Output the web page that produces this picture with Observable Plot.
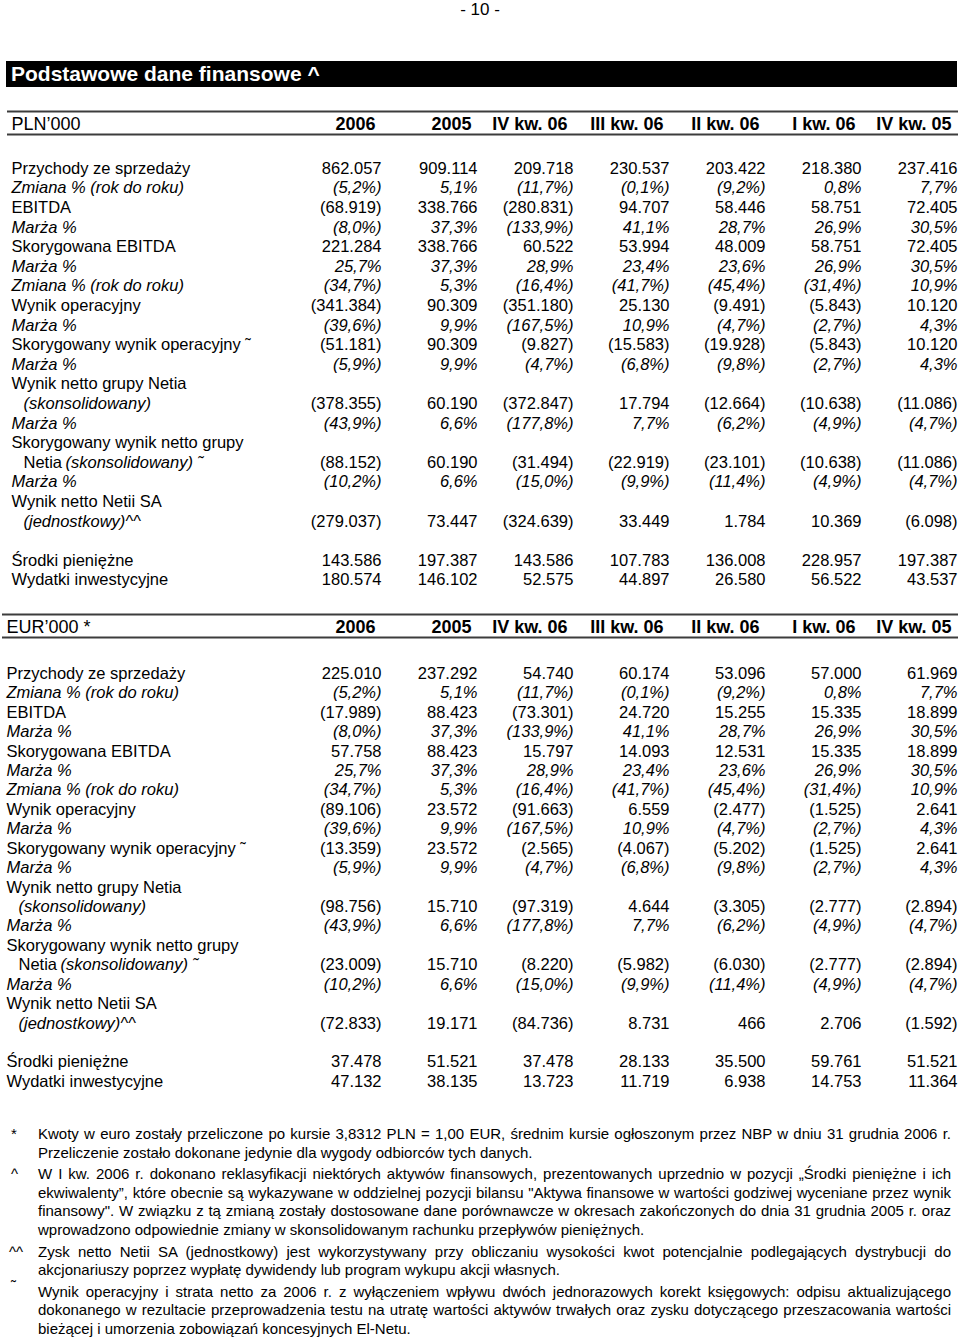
<!DOCTYPE html>
<html><head><meta charset="utf-8">
<script src="https://cdn.jsdelivr.net/npm/d3@7"></script>
<script src="https://cdn.jsdelivr.net/npm/@observablehq/plot@0.6"></script>
<style>
body{margin:0;background:#fff;font-family:"Liberation Sans",Arial,sans-serif;color:#000}
#page{position:relative;width:960px;height:1340px;overflow:hidden;background:#fff}
#pnum{position:absolute;top:1px;left:0;width:960px;text-align:center;font-size:17px;line-height:18px}
#bar{position:absolute;top:61px;left:6px;width:951px;height:26px;background:#000;color:#fff;font-weight:bold;font-size:21px;line-height:26px;padding-left:5px;box-sizing:border-box;white-space:nowrap}
.tbl{position:absolute;left:0}
#notes{position:absolute;top:1125px;left:0;width:960px;font-size:15px;line-height:18.6px}
.fn{position:relative;padding-left:38px;padding-right:9px;text-align:justify;margin-bottom:3px}
.fn .m{position:absolute;left:11px;top:0}
</style></head><body>
<div id="page">
  <div id="pnum">- 10 -</div>
  <div id="bar">Podstawowe dane finansowe ^</div>
  <div id="pln" class="tbl" style="top:100px"></div>
  <div id="eur" class="tbl" style="top:600px"></div>
  <div id="notes">
    <div class="fn"><span class="m">*</span>Kwoty w euro zostały przeliczone po kursie 3,8312 PLN = 1,00 EUR, średnim kursie ogłoszonym przez NBP w dniu 31 grudnia 2006 r. Przeliczenie zostało dokonane jedynie dla wygody odbiorców tych danych.</div>
    <div class="fn"><span class="m">^</span>W I kw. 2006 r. dokonano reklasyfikacji niektórych aktywów finansowych, prezentowanych uprzednio w pozycji „Środki pieniężne i ich ekwiwalenty”, które obecnie są wykazywane w oddzielnej pozycji bilansu "Aktywa finansowe w wartości godziwej wyceniane przez wynik finansowy". W związku z tą zmianą zostały dostosowane dane porównawcze w okresach zakończonych do dnia 31 grudnia 2005 r. oraz wprowadzono odpowiednie zmiany w skonsolidowanym rachunku przepływów pieniężnych.</div>
    <div class="fn"><span class="m" style="left:9px">^^</span>Zysk netto Netii SA (jednostkowy) jest wykorzystywany przy obliczaniu wysokości kwot potencjalnie podlegających dystrybucji do akcjonariuszy poprzez wypłatę dywidendy lub program wykupu akcji własnych.</div>
    <div class="fn"><span class="m" style="top:-6px">˜</span>Wynik operacyjny i strata netto za 2006 r. z wyłączeniem wpływu dwóch jednorazowych korekt księgowych: odpisu aktualizującego dokonanego w rezultacie przeprowadzenia testu na utratę wartości aktywów trwałych oraz zysku dotyczącego przeszacowania wartości bieżącej i umorzenia zobowiązań koncesyjnych El-Netu.</div>
  </div>
</div>
<script>
// ---- data ----
const columns = ["2006", "2005", "IV kw. 06", "III kw. 06", "II kw. 06", "I kw. 06", "IV kw. 05"];

const rowLabels = [
  "Przychody ze sprzedaży", "Zmiana % (rok do roku)", "EBITDA", "Marża %",
  "Skorygowana EBITDA", "Marża %", "Zmiana % (rok do roku)", "Wynik operacyjny",
  "Marża %", "Skorygowany wynik operacyjny \u02DC", "Marża %", "Wynik netto grupy Netia",
  "(skonsolidowany)", "Marża %", "Skorygowany wynik netto grupy", "Netia",
  "Marża %", "Wynik netto Netii SA", "(jednostkowy)^^", "",
  "Środki pieniężne", "Wydatki inwestycyjne"
];
const labelItalicRows = [1, 3, 5, 6, 8, 10, 12, 13, 16, 18];
const labelIndentRows = [12, 15, 18];
const labelSuffix = [{row: 15, text: "(skonsolidowany) \u02DC"}];
const valueKind = ["n","p","n","p","n","p","p","n","p","n","p",null,"n","p",null,"n","p",null,"n",null,"n","n"];

// percentages (same in both currencies)
const pctZmianaPrzychodow = [-5.2, 5.1, -11.7, -0.1, -9.2, 0.8, 7.7];
const pctMarzaEbitda = [-8.0, 37.3, -133.9, 41.1, 28.7, 26.9, 30.5];
const pctMarzaSkorEbitda = [25.7, 37.3, 28.9, 23.4, 23.6, 26.9, 30.5];
const pctZmianaSkorEbitda = [-34.7, 5.3, -16.4, -41.7, -45.4, -31.4, 10.9];
const pctMarzaOper = [-39.6, 9.9, -167.5, 10.9, -4.7, -2.7, 4.3];
const pctMarzaSkorOper = [-5.9, 9.9, -4.7, -6.8, -9.8, -2.7, 4.3];
const pctMarzaNetto = [-43.9, 6.6, -177.8, 7.7, -6.2, -4.9, -4.7];
const pctMarzaSkorNetto = [-10.2, 6.6, -15.0, -9.9, -11.4, -4.9, -4.7];

// PLN '000
const plnPrzychody = [862057, 909114, 209718, 230537, 203422, 218380, 237416];
const plnEbitda = [-68919, 338766, -280831, 94707, 58446, 58751, 72405];
const plnSkorEbitda = [221284, 338766, 60522, 53994, 48009, 58751, 72405];
const plnWynikOper = [-341384, 90309, -351180, 25130, -9491, -5843, 10120];
const plnSkorWynikOper = [-51181, 90309, -9827, -15583, -19928, -5843, 10120];
const plnWynikNetto = [-378355, 60190, -372847, 17794, -12664, -10638, -11086];
const plnSkorWynikNetto = [-88152, 60190, -31494, -22919, -23101, -10638, -11086];
const plnWynikNettoSA = [-279037, 73447, -324639, 33449, 1784, 10369, -6098];
const plnSrodki = [143586, 197387, 143586, 107783, 136008, 228957, 197387];
const plnWydatki = [180574, 146102, 52575, 44897, 26580, 56522, 43537];

// EUR '000
const eurPrzychody = [225010, 237292, 54740, 60174, 53096, 57000, 61969];
const eurEbitda = [-17989, 88423, -73301, 24720, 15255, 15335, 18899];
const eurSkorEbitda = [57758, 88423, 15797, 14093, 12531, 15335, 18899];
const eurWynikOper = [-89106, 23572, -91663, 6559, -2477, -1525, 2641];
const eurSkorWynikOper = [-13359, 23572, -2565, -4067, -5202, -1525, 2641];
const eurWynikNetto = [-98756, 15710, -97319, 4644, -3305, -2777, -2894];
const eurSkorWynikNetto = [-23009, 15710, -8220, -5982, -6030, -2777, -2894];
const eurWynikNettoSA = [-72833, 19171, -84736, 8731, 466, 2706, -1592];
const eurSrodki = [37478, 51521, 37478, 28133, 35500, 59761, 51521];
const eurWydatki = [47132, 38135, 13723, 11719, 6938, 14753, 11364];

// ---- formatting ----
const fmtNum = v => { const s = d3.format(",")(Math.abs(v)).replace(/,/g, "."); return v < 0 ? `(${s})` : s; };
const fmtPct = v => { const s = Math.abs(v).toFixed(1).replace(".", ",") + "%"; return v < 0 ? `(${s})` : s; };

function buildTable(cfg, series) {
  const cells = [];
  series.forEach((vals, i) => {
    if (!vals) return;
    vals.forEach((v, j) => cells.push({row: i, col: columns[j], text: valueKind[i] === "p" ? fmtPct(v) : fmtNum(v), pct: valueKind[i] === "p"}));
  });
  const labels = rowLabels.map((label, i) => ({row: i, label, italic: labelItalicRows.includes(i), indent: labelIndentRows.includes(i)})).filter(d => d.label);
  const FS = 16.5;
  const labelMarks = d3.groups(labels, d => d.italic, d => d.indent).flatMap(([italic, g]) => g.map(([indent, rows]) =>
    Plot.text(rows, {y: "row", text: "label", frameAnchor: "left", textAnchor: "start", dx: cfg.left + (indent ? cfg.indent : 0), fontSize: FS, fontStyle: italic ? "italic" : "normal"})));
  return Plot.plot({
    width: 960, height: 500,
    marginTop: 0, marginBottom: 0, marginLeft: 0, marginRight: 0,
    x: {type: "point", domain: columns, range: [381, 957], padding: 0, axis: null},
    y: {domain: [0, 21], range: cfg.yRange, axis: null},
    style: {fontFamily: "'Liberation Sans', Arial, sans-serif", background: "white", color: "black"},
    marks: [
      Plot.ruleY(cfg.rules, {stroke: "#3c3c3c", strokeWidth: 2, insetLeft: cfg.ruleLeft, insetRight: 2}),
      Plot.text([cfg.unit], {y: () => cfg.hdr, text: d => d, frameAnchor: "left", textAnchor: "start", dx: cfg.left, fontSize: 18}),
      Plot.text(columns, {x: d => d, y: () => cfg.hdr, text: d => d, textAnchor: "end", dx: -6, fontSize: 18, fontWeight: "bold"}),
      ...labelMarks,
      Plot.text(labelSuffix, {y: "row", text: "text", frameAnchor: "left", textAnchor: "start", dx: cfg.left + cfg.indent + 42, fontSize: FS, fontStyle: "italic"}),
      Plot.text(cells.filter(d => !d.pct), {x: "col", y: "row", text: "text", textAnchor: "end", fontSize: FS}),
      Plot.text(cells.filter(d => d.pct), {x: "col", y: "row", text: "text", textAnchor: "end", fontSize: FS, fontStyle: "italic"})
    ]
  });
}

const plnSeries = [plnPrzychody, pctZmianaPrzychodow, plnEbitda, pctMarzaEbitda, plnSkorEbitda, pctMarzaSkorEbitda, pctZmianaSkorEbitda,
  plnWynikOper, pctMarzaOper, plnSkorWynikOper, pctMarzaSkorOper, null, plnWynikNetto, pctMarzaNetto, null, plnSkorWynikNetto,
  pctMarzaSkorNetto, null, plnWynikNettoSA, null, plnSrodki, plnWydatki];
const eurSeries = [eurPrzychody, pctZmianaPrzychodow, eurEbitda, pctMarzaEbitda, eurSkorEbitda, pctMarzaSkorEbitda, pctZmianaSkorEbitda,
  eurWynikOper, pctMarzaOper, eurSkorWynikOper, pctMarzaSkorOper, null, eurWynikNetto, pctMarzaNetto, null, eurSkorWynikNetto,
  pctMarzaSkorNetto, null, eurWynikNettoSA, null, eurSrodki, eurWydatki];

document.getElementById("pln").append(buildTable(
  {unit: "PLN\u2019000", left: 11, indent: 12, ruleLeft: 7, yRange: [68, 68 + 21 * 19.6], hdr: -2.27, rules: [-2.908, -1.735]},
  plnSeries));
document.getElementById("eur").append(buildTable(
  {unit: "EUR\u2019000 *", left: 6, indent: 12, ruleLeft: 2, yRange: [73, 73 + 21 * 19.43], hdr: -2.367, rules: [-3.037, -1.853]},
  eurSeries));
</script>
</body></html>
